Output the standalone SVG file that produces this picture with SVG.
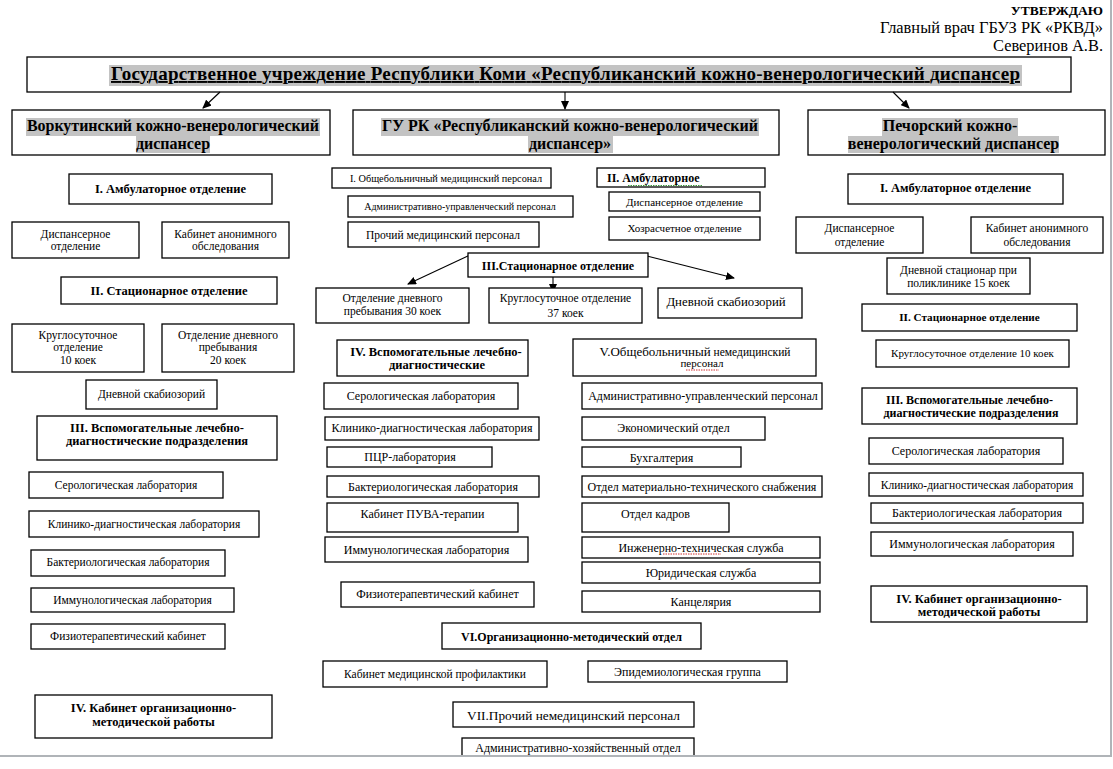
<svg xmlns="http://www.w3.org/2000/svg" width="1113" height="769" viewBox="0 0 1113 769">
<style>
.b{fill:#fff;stroke:#000;stroke-width:1.3}
.t{font-family:"Liberation Serif","Times New Roman",serif;font-size:11.5px;text-anchor:middle;fill:#000}
.tr{font-size:12px}
.tb{font-family:"Liberation Serif","Times New Roman",serif;font-size:12.5px;font-weight:bold;text-anchor:middle;fill:#000}
.th{font-family:"Liberation Serif","Times New Roman",serif;font-size:16px;font-weight:bold;text-anchor:middle;fill:#000}
.hl{fill:#c3c3c3}
.c{stroke:#000;stroke-width:1.1;fill:none}
.sq{fill:none;stroke-width:1;stroke-dasharray:1.5 1}
</style>
<defs>
<marker id="ah" markerWidth="9" markerHeight="8" refX="8" refY="4" orient="auto" markerUnits="userSpaceOnUse">
<path d="M0,0 L9,4 L0,8 Z" fill="#000"/>
</marker>
</defs>
<rect x="0" y="0" width="1113" height="769" fill="#fff"/>

<g id="approval">
<text x="1103" y="15" font-family="Liberation Serif, serif" font-size="13.5" font-weight="bold" text-anchor="end">УТВЕРЖДАЮ</text>
<text x="1103" y="33" font-family="Liberation Serif, serif" font-size="16.4" text-anchor="end">Главный врач ГБУЗ РК «РКВД»</text>
<text x="1103" y="51" font-family="Liberation Serif, serif" font-size="16.4" text-anchor="end" textLength="110">Северинов А.В.</text>
</g>

<g id="root">
<rect class="b" x="27" y="57" width="1044" height="35"/>
<rect class="hl" x="109" y="65" width="913" height="21"/>
<text x="565.5" y="80" font-family="Liberation Serif, serif" font-size="19" font-weight="bold" text-anchor="middle" text-decoration="underline" textLength="909">Государственное учреждение Республики Коми «Республиканский кожно-венерологический диспансер</text>
</g>

<g id="vorkuta">
<rect class="b" x="12" y="110" width="318" height="45"/>
<rect class="hl" x="26" y="118" width="294" height="18"/>
<rect class="hl" x="136" y="136" width="74" height="17"/>
<text class="th" x="173" y="131" textLength="292">Воркутинский кожно-венерологический</text>
<text class="th" x="173" y="149">диспансер</text>
</g>
<g id="rkvd">
<rect class="b" x="353" y="110" width="426" height="45"/>
<rect class="hl" x="381" y="118" width="378" height="18"/>
<rect class="hl" x="528" y="136" width="85" height="17"/>
<text class="th" x="570" y="131" textLength="376">ГУ РК «Республиканский кожно-венерологический</text>
<text class="th" x="570" y="149">диспансер»</text>
</g>
<g id="pechora">
<rect class="b" x="808" y="110" width="297" height="45"/>
<rect class="hl" x="882" y="118" width="136" height="18"/>
<rect class="hl" x="848" y="136" width="211" height="17"/>
<text class="th" x="950" y="131">Печорский кожно-</text>
<text class="th" x="953.5" y="149">венерологический диспансер</text>
</g>

<g id="connectors">
<line class="c" x1="220" y1="92" x2="203" y2="108" marker-end="url(#ah)"/>
<line class="c" x1="565" y1="92" x2="565" y2="109" marker-end="url(#ah)"/>
<line class="c" x1="893" y1="92" x2="909" y2="108" marker-end="url(#ah)"/>
<line class="c" x1="470" y1="255" x2="408" y2="284" marker-end="url(#ah)"/>
<line class="c" x1="553" y1="277" x2="553" y2="292" marker-end="url(#ah)"/>
<line class="c" x1="643" y1="255" x2="734" y2="278" marker-end="url(#ah)"/>
</g>

<!-- Vorkuta column -->
<g id="v-amb"><rect class="b" x="69" y="174" width="203" height="30"/><text class="tb" x="170.5" y="193">I. Амбулаторное отделение</text></g>
<g id="v-disp"><rect class="b" x="12" y="222" width="127" height="36"/><text class="t" x="75.5" y="238">Диспансерное</text><text class="t" x="75.5" y="250">отделение</text></g>
<g id="v-anon"><rect class="b" x="162" y="222" width="127" height="36"/><text class="t" x="225.5" y="238">Кабинет анонимного</text><text class="t" x="225.5" y="250">обследования</text></g>
<g id="v-stac"><rect class="b" x="61" y="277" width="216" height="27"/><text class="tb" x="169" y="295">II. Стационарное отделение</text></g>
<g id="v-round"><rect class="b" x="12" y="324" width="132" height="48"/><text class="t" x="78" y="339">Круглосуточное</text><text class="t" x="78" y="351">отделение</text><text class="t" x="78" y="363.5">10 коек</text></g>
<g id="v-day"><rect class="b" x="162" y="324" width="132" height="48"/><text class="t" x="228" y="339">Отделение дневного</text><text class="t" x="228" y="351">пребывания</text><text class="t" x="228" y="363.5">20 коек</text></g>
<g id="v-scab"><rect class="b" x="86" y="380" width="131" height="29"/><text class="t" x="151.5" y="398">Дневной скабиозорий</text></g>
<g id="v-aux"><rect class="b" x="37" y="416" width="240" height="44"/><text class="tb" x="157" y="432">III. Вспомогательные лечебно-</text><text class="tb" x="157" y="445">диагностические подразделения</text></g>
<g id="v-sero"><rect class="b" x="29" y="472" width="194" height="26"/><text class="t" x="126" y="489">Серологическая лаборатория</text></g>
<g id="v-clin"><rect class="b" x="29" y="511" width="230" height="26"/><text class="t" x="144" y="527.5">Клинико-диагностическая лаборатория</text></g>
<g id="v-bact"><rect class="b" x="31" y="550" width="194" height="26"/><text class="t" x="128" y="566">Бактериологическая лаборатория</text></g>
<g id="v-imm"><rect class="b" x="31" y="588" width="203" height="24"/><text class="t" x="132.5" y="604">Иммунологическая лаборатория</text></g>
<g id="v-phys"><rect class="b" x="31" y="624" width="194" height="25"/><text class="t" x="128" y="640">Физиотерапевтический кабинет</text></g>
<g id="v-org"><rect class="b" x="35" y="695" width="237" height="43"/><text class="tb" x="153.5" y="712">IV. Кабинет организационно-</text><text class="tb" x="153.5" y="726">методической работы</text></g>

<!-- RKVD column -->
<g id="c-med"><rect class="b" x="332" y="168" width="219" height="20"/><text class="t" x="446" y="182" style="font-size:10.3px">I. Общебольничный медицинский персонал</text></g>
<g id="c-aup"><rect class="b" x="348" y="196" width="225" height="21"/><text class="t" x="460" y="210" style="font-size:10px">Административно-управленческий персонал</text></g>
<g id="c-other"><rect class="b" x="348" y="222" width="191" height="25"/><text class="t" x="443" y="239">Прочий медицинский персонал</text></g>
<g id="c-amb"><rect class="b" x="597" y="168" width="168" height="19"/><text class="tb" x="607" y="181.5" style="font-size:12px;text-anchor:start">II. Амбулаторное</text><path class="sq" stroke="#3a9a3a" d="M628,185.5 L703,185.5"/></g>
<g id="c-disp"><rect class="b" x="609" y="192" width="151" height="19"/><text class="t" x="684.5" y="205.5" style="font-size:11px">Диспансерное отделение</text></g>
<g id="c-hoz"><rect class="b" x="609" y="217" width="151" height="23"/><text class="t" x="684.5" y="232" style="font-size:11px">Хозрасчетное отделение</text></g>
<g id="c-stac"><rect class="b" x="468" y="253" width="180" height="24"/><text class="tb" x="558" y="270" style="font-size:12px">III.Стационарное отделение</text></g>
<g id="c-day"><rect class="b" x="316" y="288" width="153" height="35"/><text class="t" x="392.5" y="302">Отделение дневного</text><text class="t" x="392.5" y="315">пребывания 30 коек</text></g>
<g id="c-round"><rect class="b" x="489" y="288" width="153" height="35"/><text class="t" x="565.5" y="301.5">Круглосуточное отделение</text><text class="t" x="565.5" y="316.5">37 коек</text></g>
<g id="c-scab"><rect class="b" x="658" y="288" width="144" height="30"/><text class="t" x="726" y="305.5" style="font-size:12.8px">Дневной скабиозорий</text></g>
<g id="c-aux"><rect class="b" x="337" y="340" width="191" height="36"/><text class="tb" x="436" y="356">IV. Вспомогательные лечебно-</text><text class="tb" x="437" y="369">диагностические</text></g>
<g id="c-nonmed"><rect class="b" x="573" y="339" width="243" height="37"/><text class="t" x="695" y="356"><tspan font-size="13">V.Общебольничный</tspan> <tspan font-size="11.5">немедицинский</tspan></text><text class="t" x="702" y="367" style="font-size:11px">персонал</text><path class="sq" stroke="#d03030" d="M686,370 L719,370"/></g>
<g id="c-sero"><rect class="b" x="324" y="383" width="194" height="26"/><text class="t tr" x="421" y="400">Серологическая лаборатория</text></g>
<g id="c-clin"><rect class="b" x="325" y="417" width="214" height="23"/><text class="t tr" x="432" y="432">Клинико-диагностическая лаборатория</text></g>
<g id="c-pcr"><rect class="b" x="327" y="447" width="165" height="20"/><text class="t tr" x="410" y="461">ПЦР-лаборатория</text></g>
<g id="c-bact"><rect class="b" x="327" y="476" width="212" height="21"/><text class="t tr" x="433" y="490.5">Бактериологическая лаборатория</text></g>
<g id="c-puva"><rect class="b" x="327" y="503" width="191" height="29"/><text class="t tr" x="422.5" y="518">Кабинет ПУВА-терапии</text></g>
<g id="c-imm"><rect class="b" x="325" y="537" width="203" height="25"/><text class="t tr" x="426.5" y="554">Иммунологическая лаборатория</text></g>
<g id="c-phys"><rect class="b" x="341" y="582" width="193" height="25"/><text class="t tr" x="437.5" y="598">Физиотерапевтический кабинет</text></g>
<g id="c-aup2"><rect class="b" x="582" y="383" width="240" height="26"/><text class="t tr" x="703" y="400">Административно-управленческий персонал</text></g>
<g id="c-econ"><rect class="b" x="582" y="417" width="183" height="23"/><text class="t tr" x="673.5" y="432">Экономический отдел</text></g>
<g id="c-buh"><rect class="b" x="582" y="447" width="159" height="20"/><text class="t tr" x="661.5" y="461.5">Бухгалтерия</text></g>
<g id="c-mts"><rect class="b" x="582" y="476" width="240" height="21"/><text class="t tr" x="702" y="490.5">Отдел материально-технического снабжения</text></g>
<g id="c-hr"><rect class="b" x="582" y="503" width="147" height="29"/><text class="t tr" x="655.5" y="518">Отдел кадров</text></g>
<g id="c-eng"><rect class="b" x="582" y="537" width="238" height="21"/><text class="t tr" x="701" y="551.5">Инженерно-техническая служба</text><path class="sq" stroke="#d03030" d="M663,554 L721,554"/></g>
<g id="c-law"><rect class="b" x="582" y="562" width="238" height="21"/><text class="t tr" x="701" y="576.5">Юридическая служба</text></g>
<g id="c-office"><rect class="b" x="582" y="591" width="238" height="21"/><text class="t tr" x="701" y="605.5">Канцелярия</text></g>
<g id="c-omo"><rect class="b" x="442" y="623" width="259" height="26"/><text class="tb" x="571.5" y="641" style="font-size:12px">VI.Организационно-методический отдел</text></g>
<g id="c-prof"><rect class="b" x="323" y="661" width="224" height="26"/><text class="t" x="435" y="677.5">Кабинет медицинской профилактики</text></g>
<g id="c-epid"><rect class="b" x="588" y="661" width="199" height="21"/><text class="t tr" x="687.5" y="675.5">Эпидемиологическая группа</text></g>
<g id="c-nonmed2"><rect class="b" x="453" y="702" width="241" height="25"/><text class="t" x="573.5" y="720" style="font-size:13.3px">VII.Прочий немедицинский персонал</text></g>
<g id="c-aho"><rect class="b" x="462" y="738" width="232" height="40"/><text class="t tr" x="578" y="752">Административно-хозяйственный отдел</text></g>

<!-- Pechora column -->
<g id="p-amb"><rect class="b" x="848" y="174" width="215" height="30"/><text class="tb" x="955.5" y="192">I. Амбулаторное отделение</text></g>
<g id="p-disp"><rect class="b" x="796" y="217" width="127" height="36"/><text class="t" x="859.5" y="232">Диспансерное</text><text class="t" x="859.5" y="246">отделение</text></g>
<g id="p-anon"><rect class="b" x="971" y="217" width="132" height="36"/><text class="t" x="1037" y="232">Кабинет анонимного</text><text class="t" x="1037" y="246">обследования</text></g>
<g id="p-daystac"><rect class="b" x="887" y="258" width="143" height="36"/><text class="t" x="958.5" y="274">Дневной стационар при</text><text class="t" x="958.5" y="287">поликлинике 15 коек</text></g>
<g id="p-stac"><rect class="b" x="862" y="304" width="215" height="27"/><text class="tb" x="969.5" y="321" style="font-size:11.2px">II. Стационарное отделение</text></g>
<g id="p-round"><rect class="b" x="876" y="340" width="193" height="27"/><text class="t" x="972.5" y="356.5" style="font-size:11px">Круглосуточное отделение 10 коек</text></g>
<g id="p-aux"><rect class="b" x="862" y="388" width="215" height="36"/><text class="tb" x="969.5" y="404" style="font-size:12px">III. Вспомогательные лечебно-</text><text class="tb" x="971" y="417" style="font-size:12px">диагностические подразделения</text></g>
<g id="p-sero"><rect class="b" x="869" y="438" width="194" height="26"/><text class="t tr" x="966" y="455">Серологическая лаборатория</text></g>
<g id="p-clin"><rect class="b" x="869" y="473" width="214" height="23"/><text class="t" x="977" y="488.5">Клинико-диагностическая лаборатория</text></g>
<g id="p-bact"><rect class="b" x="871" y="503" width="212" height="20"/><text class="t tr" x="977" y="517">Бактериологическая лаборатория</text></g>
<g id="p-imm"><rect class="b" x="871" y="532" width="202" height="24"/><text class="t tr" x="972" y="548">Иммунологическая лаборатория</text></g>
<g id="p-org"><rect class="b" x="871" y="586" width="216" height="36"/><text class="tb" x="979" y="603">IV. Кабинет организационно-</text><text class="tb" x="979" y="616">методической работы</text></g>

<g id="page-edge">
<rect x="0" y="757" width="1113" height="12" fill="#fff"/>
<line x1="0" y1="756" x2="1111" y2="756" stroke="#b0b4b8" stroke-width="2"/>
<line x1="1111" y1="0" x2="1111" y2="757" stroke="#b0b4b8" stroke-width="2"/>
</g>
</svg>
